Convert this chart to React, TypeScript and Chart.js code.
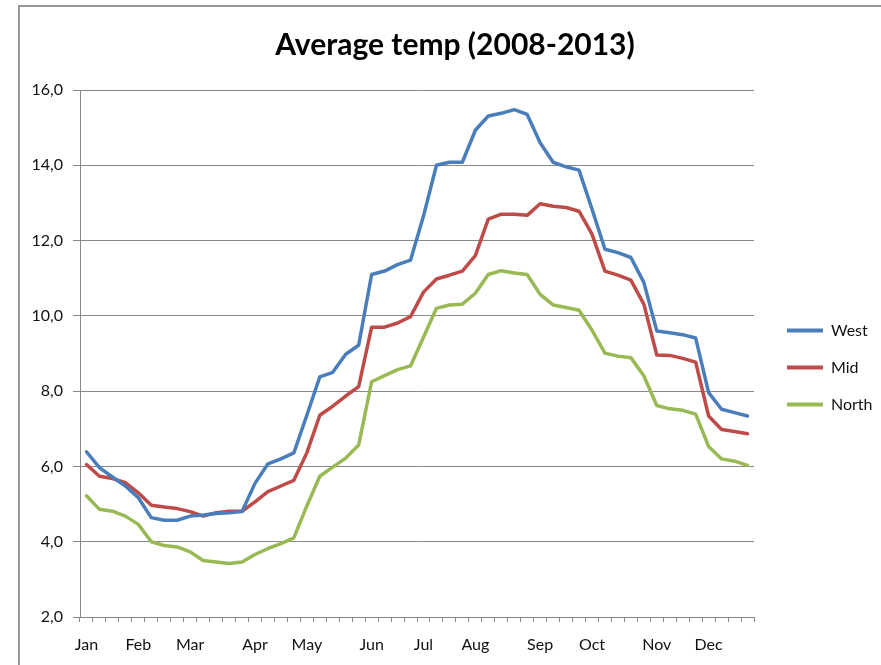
import React, { useEffect, useRef } from 'react';
import { Chart, registerables } from 'chart.js';

Chart.register(...registerables);

// ---- data ----
const monthNames = ['Jan', 'Feb', 'Mar', 'Apr', 'May', 'Jun', 'Jul', 'Aug', 'Sep', 'Oct', 'Nov', 'Dec'];
const monthStartWeeks = [0, 4, 8, 13, 17, 22, 26, 30, 35, 39, 44, 48];
const WEEK_COUNT = 52;
const weekLabels: string[] = Array.from({ length: WEEK_COUNT }, (_, i) => {
  const m = monthStartWeeks.indexOf(i);
  return m >= 0 ? monthNames[m] : '';
});

const westValues = [
  6.39, 5.97, 5.72, 5.48, 5.17, 4.64, 4.57, 4.57, 4.68, 4.71, 4.75, 4.77, 4.8,
  5.55, 6.07, 6.2, 6.36, 7.36, 8.38, 8.5, 8.98, 9.22, 11.1, 11.19, 11.36, 11.48,
  12.65, 14.0, 14.08, 14.08, 14.93, 15.31, 15.38, 15.48, 15.35, 14.6, 14.08, 13.96, 13.87,
  12.84, 11.77, 11.68, 11.55, 10.89, 9.6, 9.55, 9.5, 9.41, 7.96, 7.52, 7.43, 7.34,
];
const midValues = [
  6.05, 5.74, 5.68, 5.57, 5.3, 4.97, 4.92, 4.88, 4.8, 4.68, 4.77, 4.81, 4.81,
  5.06, 5.33, 5.48, 5.63, 6.36, 7.36, 7.6, 7.87, 8.12, 9.7, 9.7, 9.81, 9.98,
  10.63, 10.98, 11.08, 11.19, 11.6, 12.57, 12.7, 12.7, 12.67, 12.98, 12.91, 12.88, 12.78,
  12.17, 11.19, 11.08, 10.95, 10.31, 8.96, 8.95, 8.87, 8.77, 7.34, 6.98, 6.93, 6.87,
];
const northValues = [
  5.22, 4.86, 4.81, 4.68, 4.46, 4.0, 3.9, 3.86, 3.73, 3.5, 3.46, 3.42, 3.46,
  3.66, 3.82, 3.95, 4.1, 4.95, 5.74, 5.98, 6.22, 6.57, 8.25, 8.41, 8.57, 8.67,
  9.43, 10.2, 10.29, 10.31, 10.6, 11.1, 11.2, 11.14, 11.1, 10.57, 10.29, 10.22, 10.15,
  9.62, 9.01, 8.93, 8.89, 8.41, 7.62, 7.53, 7.49, 7.39, 6.53, 6.2, 6.14, 6.03,
];
const seriesNames = ['West', 'Mid', 'North'];
const yMin = 2;
const yMax = 16;
const yStep = 2;
const titleText = 'Average temp (2008-2013)';

// ---- style ----
const COLORS = ['#4a7ebb', '#be4b48', '#98b954'];
const GRID = '#888888';
const TEXT = '#111111';
const FONT = 'Lato, "Open Sans", sans-serif';
const CANVAS_W = 874;
const CANVAS_H = 725;
const LEGEND_WIDTH = 138;
const LEGEND_SHIFT = 12;

const legendPlacement = {
  id: 'legendPlacement',
  beforeLayout(chart: any) {
    const lg = chart.legend;
    if (lg && !lg.__patched) {
      const orig = lg.fit;
      lg.fit = function () {
        orig.call(this);
        this.width = LEGEND_WIDTH;
      };
      lg.__patched = true;
    }
  },
  afterLayout(chart: any) {
    const lg = chart.legend;
    if (lg) {
      lg.left += LEGEND_SHIFT;
      lg.right += LEGEND_SHIFT;
    }
  },
};

export default function App() {
  const ref = useRef<HTMLCanvasElement>(null);

  useEffect(() => {
    document.body.style.margin = '0';
    let chart: Chart | null = null;
    let cancelled = false;

    const build = () => {
      if (cancelled || !ref.current) return;
      const values = [westValues, midValues, northValues];
      chart = new Chart(ref.current, {
        type: 'line',
        data: {
          labels: weekLabels,
          datasets: seriesNames.map((name, i) => ({
            label: name,
            data: values[i],
            borderColor: COLORS[i],
            backgroundColor: COLORS[i],
            borderWidth: 3.5,
            pointRadius: 0,
            pointHoverRadius: 0,
            tension: 0,
            borderCapStyle: 'round',
            borderJoinStyle: 'round',
          })),
        },
        options: {
          responsive: false,
          animation: false,
          devicePixelRatio: 1,
          layout: { padding: { left: 0, right: 0, top: 0, bottom: 0 } },
          plugins: {
            title: {
              display: true,
              text: titleText,
              color: '#000',
              font: { family: FONT, size: 30, weight: 'bold' },
              padding: { top: 22.5, bottom: 26.5 },
            },
            legend: {
              position: 'right',
              align: 'center',
              labels: {
                boxWidth: 36,
                boxHeight: 4,
                padding: 21,
                color: TEXT,
                font: { family: FONT, size: 16 },
                generateLabels: (c: any) =>
                  Chart.defaults.plugins.legend.labels
                    .generateLabels(c)
                    .map((l: any) => ({ ...l, lineWidth: 0, fillStyle: l.strokeStyle })),
              },
            },
            tooltip: { enabled: false },
          },
          scales: {
            x: {
              type: 'category',
              offset: true,
              grid: {
                display: true,
                drawOnChartArea: false,
                drawTicks: true,
                tickLength: 5,
                color: GRID,
                offset: true,
              },
              border: { display: true, color: GRID, width: 1 },
              ticks: {
                autoSkip: false,
                maxRotation: 0,
                minRotation: 0,
                padding: 13,
                color: TEXT,
                font: { family: FONT, size: 16 },
              },
              afterFit: (s: any) => {
                s.height = 113;
              },
            },
            y: {
              min: yMin,
              max: yMax,
              ticks: {
                stepSize: yStep,
                padding: 10,
                color: TEXT,
                font: { family: FONT, size: 16 },
                callback: (v: any) => Number(v).toFixed(1).replace('.', ','),
              },
              grid: { color: GRID, tickLength: 7, drawTicks: true, lineWidth: 1 },
              border: { display: true, color: GRID, width: 1 },
              afterFit: (s: any) => {
                s.width = 62;
              },
            },
          },
        },
        plugins: [legendPlacement],
      } as any);
    };

    const fonts: any = (document as any).fonts;
    if (fonts && fonts.load) {
      Promise.all([fonts.load('16px Lato'), fonts.load('bold 30px Lato')]).then(build, build);
    } else {
      build();
    }

    return () => {
      cancelled = true;
      if (chart) chart.destroy();
    };
  }, []);

  return (
    <div style={{ position: 'relative', width: 881, height: 665, overflow: 'hidden', background: '#fff' }}>
      <div
        style={{
          position: 'absolute',
          left: 18,
          top: 5,
          width: 1000,
          height: 1000,
          borderLeft: '2px solid #979797',
          borderTop: '2px solid #979797',
          boxSizing: 'border-box',
        }}
      />
      <canvas
        ref={ref}
        width={CANVAS_W}
        height={CANVAS_H}
        style={{ position: 'absolute', left: 18, top: 5, width: CANVAS_W, height: CANVAS_H }}
      />
    </div>
  );
}
